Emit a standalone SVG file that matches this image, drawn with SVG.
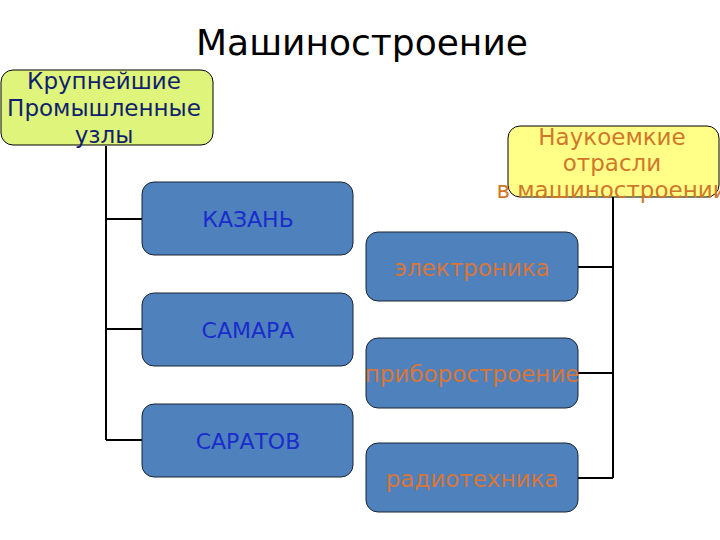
<svg xmlns="http://www.w3.org/2000/svg" width="720" height="540" viewBox="0 0 720 540">
<style>
text{font-family:"DejaVu Sans","Noto Sans",sans-serif;text-anchor:middle}
.title{font-size:36px;fill:#000}
.hdr{stroke:#000;stroke-width:1}
.blue{fill:#4f81bd;stroke:#1a2330;stroke-width:1}
.city{font-size:22px;fill:#1a2ccc}
.ind{font-size:23px;fill:#d8763a}
.lbl1{font-size:23px;fill:#0f1f6e}
.lbl2{font-size:23px;fill:#d0782a}
.conn{stroke:#000;stroke-width:2;fill:none}
</style>
<rect width="720" height="540" fill="#fff"/>
<text class="title" x="362" y="55">Машиностроение</text>
<g id="connectors">
<path class="conn" d="M106 146V440M106 219H142M106 329H142M106 440H142"/>
<path class="conn" d="M613 197V478M578 267H613M578 373H613M578 478H613"/>
</g>
<g id="node-hubs">
<rect class="hdr" x="1" y="70" width="212" height="75" rx="12" fill="#dff47a"/>
<text class="lbl1" x="104" y="89">Крупнейшие</text>
<text class="lbl1" x="104" y="116">Промышленные</text>
<text class="lbl1" x="104" y="143">узлы</text>
</g>
<g id="node-hitech">
<rect class="hdr" x="508" y="126" width="211" height="71" rx="12" fill="#ffff88"/>
<text class="lbl2" x="612" y="145">Наукоемкие</text>
<text class="lbl2" x="612" y="171">отрасли</text>
<text class="lbl2" x="612" y="198">в машиностроении</text>
</g>
<g id="node-kazan">
<rect class="blue" x="142" y="182" width="211" height="73" rx="12"/>
<text class="city" x="248" y="227">КАЗАНЬ</text>
</g>
<g id="node-samara">
<rect class="blue" x="142" y="293" width="211" height="73" rx="12"/>
<text class="city" x="248" y="338">САМАРА</text>
</g>
<g id="node-saratov">
<rect class="blue" x="142" y="404" width="211" height="73" rx="12"/>
<text class="city" x="248" y="449">САРАТОВ</text>
</g>
<g id="node-electronics">
<rect class="blue" x="366" y="232" width="212" height="69" rx="12"/>
<text class="ind" x="472" y="276">электроника</text>
</g>
<g id="node-instruments">
<rect class="blue" x="366" y="338" width="212" height="70" rx="12"/>
<text class="ind" x="472" y="382">приборостроение</text>
</g>
<g id="node-radio">
<rect class="blue" x="366" y="443" width="212" height="69" rx="12"/>
<text class="ind" x="472" y="487">радиотехника</text>
</g>
</svg>
